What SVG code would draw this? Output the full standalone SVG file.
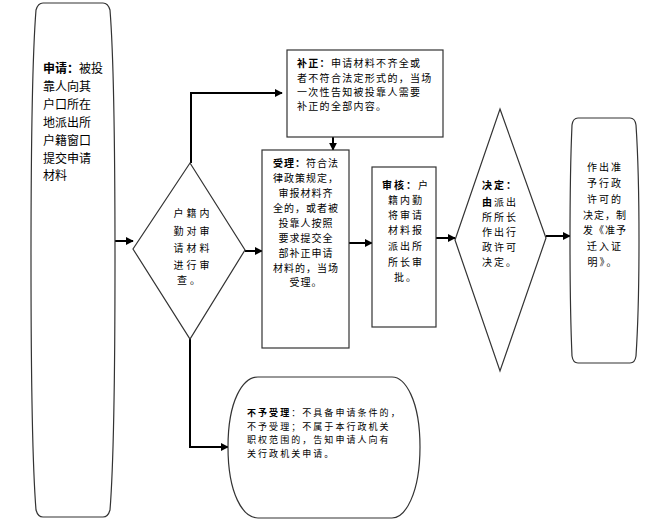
<svg xmlns="http://www.w3.org/2000/svg" width="649" height="524" viewBox="0 0 649 524">
<defs>
<marker id="ah" viewBox="0 0 10 10" refX="9" refY="5" markerWidth="4" markerHeight="4" orient="auto" markerUnits="strokeWidth">
<path d="M0,0 L10,5 L0,10 Z" fill="#000"/>
</marker>
<style>
.shp{fill:#fff;stroke:#333;stroke-width:1.2}
.con{fill:none;stroke:#000;stroke-width:2;marker-end:url(#ah)}
.lin{fill:none;stroke:#000;stroke-width:2}
text{font-family:"Noto Sans CJK SC","Noto Sans",sans-serif;fill:#000}
.s{font-size:10px;letter-spacing:1px}
.r{font-size:9px;letter-spacing:2.05px}
.big{font-size:12px}
.b{font-weight:bold}
.m{text-anchor:middle}
</style>
</defs>
<rect width="649" height="524" fill="#fff"/>
<g id="connectors">
<path class="con" d="M115,241 H133"/>
<path class="lin" d="M191,163 V93"/>
<path class="con" d="M190,93 H282"/>
<path class="lin" d="M190,339 V447"/>
<path class="con" d="M189,447 H228"/>
<path class="con" d="M245,251 H262"/>
<path class="con" d="M333,137 V150"/>
<path class="con" d="M349,243 H372"/>
<path class="con" d="M436,238 H455"/>
<path class="con" d="M546,236 H570"/>
</g>
<g id="start">
<path class="shp" d="M43,3 H103 Q108,3 110,10 C114,60 115,160 115,260 C115,360 114,460 110,510 Q108,517 103,517 H43 Q38,517 36,510 C32,460 31,360 31,260 C31,160 32,60 36,10 Q38,3 43,3 Z"/>
<text class="big" x="43" y="73"><tspan class="b">申请：</tspan>被投</text>
<text class="big" x="43" y="91">靠人向其</text>
<text class="big" x="43" y="109">户口所在</text>
<text class="big" x="43" y="127">地派出所</text>
<text class="big" x="43" y="145">户籍窗口</text>
<text class="big" x="43" y="163">提交申请</text>
<text class="big" x="43" y="180">材料</text>
</g>
<g id="review">
<path class="shp" d="M190,163 L245,250 L190,339 L133,249 Z"/>
<text class="s m" x="193" y="217" style="letter-spacing:3px">户籍内</text>
<text class="s m" x="193" y="235" style="letter-spacing:3px">勤对审</text>
<text class="s m" x="193" y="252" style="letter-spacing:3px">请材料</text>
<text class="s m" x="193" y="269" style="letter-spacing:3px">进行审</text>
<text class="s m" x="190" y="284" style="letter-spacing:3px">查。</text>
</g>
<g id="correct">
<rect class="shp" x="287" y="50" width="156" height="87"/>
<text class="s" x="297" y="67" style="letter-spacing:1.3px"><tspan class="b">补正：</tspan>申请材料不齐全或</text>
<text class="s" x="297" y="82" style="letter-spacing:1.3px">者不符合法定形式的，当场</text>
<text class="s" x="297" y="96" style="letter-spacing:1.3px">一次性告知被投靠人需要</text>
<text class="s" x="297" y="110" style="letter-spacing:1.3px">补正的全部内容。</text>
</g>
<g id="accept">
<rect class="shp" x="262" y="150" width="87" height="198"/>
<text class="s m" x="306" y="167"><tspan class="b">受理：</tspan>符合法</text>
<text class="s m" x="306" y="182">律政策规定，</text>
<text class="s m" x="306" y="197">审报材料齐</text>
<text class="s m" x="306" y="212">全的，或者被</text>
<text class="s m" x="306" y="227">投靠人按照</text>
<text class="s m" x="306" y="242">要求提交全</text>
<text class="s m" x="306" y="257">部补正申请</text>
<text class="s m" x="306" y="272">材料的，当场</text>
<text class="s m" x="306" y="286">受理。</text>
</g>
<g id="audit">
<rect class="shp" x="372" y="167" width="64" height="160"/>
<text class="s m" x="406" y="189" style="letter-spacing:2px"><tspan class="b">审核：</tspan>户</text>
<text class="s m" x="406" y="204" style="letter-spacing:2px">籍内勤</text>
<text class="s m" x="406" y="219" style="letter-spacing:2px">将审请</text>
<text class="s m" x="406" y="234" style="letter-spacing:2px">材料报</text>
<text class="s m" x="406" y="250" style="letter-spacing:2px">派出所</text>
<text class="s m" x="406" y="266" style="letter-spacing:2px">所长审</text>
<text class="s m" x="406" y="281" style="letter-spacing:2px">批。</text>
</g>
<g id="decide">
<path class="shp" d="M500,109 L546,238 L500,371 L455,240 Z"/>
<text class="s b" x="482" y="189" style="letter-spacing:2px">决定：</text>
<text class="s" x="482" y="206" style="letter-spacing:2px"><tspan class="b">由</tspan>派出</text>
<text class="s" x="482" y="221" style="letter-spacing:2px">所所长</text>
<text class="s" x="482" y="236" style="letter-spacing:2px">作出行</text>
<text class="s" x="482" y="251" style="letter-spacing:2px">政许可</text>
<text class="s" x="482" y="266" style="letter-spacing:2px">决定。</text>
</g>
<g id="permit">
<path class="shp" d="M578,118 H630 Q635,118 636,125 C639,170 639,200 639,240 C639,280 639,310 636,356 Q635,363 630,363 H578 Q573,363 572,356 C570,310 570,280 570,240 C570,200 570,170 572,125 Q573,118 578,118 Z"/>
<text class="s m" x="605" y="171" style="letter-spacing:2px">作出准</text>
<text class="s m" x="605" y="187" style="letter-spacing:2px">予行政</text>
<text class="s m" x="605" y="203" style="letter-spacing:2px">许可的</text>
<text class="s m" x="605" y="219" style="letter-spacing:1px">决定，制</text>
<text class="s m" x="605" y="234" style="letter-spacing:1px">发《准予</text>
<text class="s m" x="605" y="250" style="letter-spacing:2px">迁入证</text>
<text class="s m" x="603" y="266" style="letter-spacing:2px">明》。</text>
</g>
<g id="reject">
<path class="shp" d="M258,377 H392 C405,377 420,400 420,447 C420,494 405,518 392,518 H258 C243,518 228,494 228,447 C228,400 243,377 258,377 Z"/>
<text class="r" x="247" y="416"><tspan class="b">不予受理</tspan>：不具备申请条件的，</text>
<text class="r" x="247" y="429.5">不予受理；不属于本行政机关</text>
<text class="r" x="247" y="443">职权范围的，告知申请人向有</text>
<text class="r" x="247" y="456.5">关行政机关申请。</text>
</g>
</svg>
